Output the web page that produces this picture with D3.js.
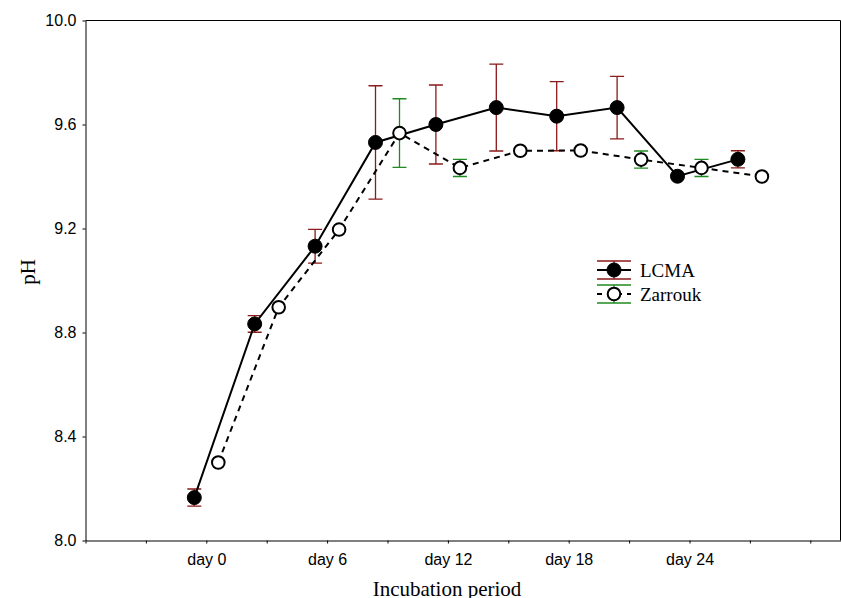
<!doctype html>
<html>
<head>
<meta charset="utf-8">
<style>
body{
  margin:0;
  background-color:#ffffff;
}
.tick text{
  font-family:"Liberation Sans", Arial, sans-serif;
  font-size:16px;
  fill:#000;
}
.lab{
  font-family:"Liberation Serif", "Times New Roman", serif;
  font-size:21px;
  fill:#000;
}
.leg{
  font-family:"Liberation Serif", "Times New Roman", serif;
  font-size:19px;
  fill:#000;
}
</style>
<script src="https://d3js.org/d3.v7.min.js"></script>
</head>
<body>
<svg width="841" height="598"></svg>
<script>
// data
var days = [0, 3, 6, 9, 12, 15, 18, 21, 24, 27];
var lcma = [8.165, 8.833, 9.132, 9.531, 9.600, 9.665, 9.632, 9.665, 9.401, 9.466];
var lcmaErr = [0.033, 0.032, 0.065, 0.218, 0.152, 0.167, 0.133, 0.120, 0, 0.033];
var zarrouk = [8.300, 8.897, 9.196, 9.567, 9.433, 9.499, 9.500, 9.465, 9.433, 9.400];
var zarroukErr = [0, 0, 0, 0.132, 0.033, 0, 0, 0.033, 0.033, 0];
var yTicks = [8.0, 8.4, 8.8, 9.2, 9.6, 10.0];
var xTicks = [-6, -3, 0, 3, 6, 9, 12, 15, 18, 21, 24, 27, 30];
var xLabelDays = [0, 6, 12, 18, 24];
var seriesNames = ["LCMA", "Zarrouk"];

var mLeft = 85.5, mRight = 840.5, mTop = 20.5, mBottom = 540.5;

var svg = d3.select("svg");

var x = d3.scaleLinear().domain([-6, 31.5]).range([mLeft, mRight]);
var y = d3.scaleLinear().domain([8, 10]).range([mBottom, mTop]);

// axes
svg.append("g")
  .attr("transform", "translate(" + mLeft + ",0)")
  .call(d3.axisLeft(y).tickValues(yTicks).tickFormat(d3.format(".1f"))
    .tickSize(3).tickSizeOuter(0).tickPadding(6))
  .call(function(g){ g.selectAll("line,path").attr("stroke", "#000"); });

svg.append("g")
  .attr("transform", "translate(0," + mBottom + ")")
  .call(d3.axisBottom(x).tickValues(xTicks)
    .tickFormat(function(d){ return xLabelDays.indexOf(d) >= 0 ? "day " + d : ""; })
    .tickSize(3).tickSizeOuter(0).tickPadding(10))
  .call(function(g){ g.selectAll("line,path").attr("stroke", "#000"); });

// frame top + right
svg.append("path")
  .attr("d", "M" + mLeft + "," + mTop + "H" + mRight + "V" + mBottom)
  .attr("fill", "none")
  .attr("stroke", "#000")
  .attr("stroke-width", 1);

// axis titles
svg.append("text").attr("class", "lab")
  .attr("x", 447).attr("y", 596)
  .attr("text-anchor", "middle")
  .text("Incubation period");

svg.append("text").attr("class", "lab")
  .attr("transform", "translate(35,272) rotate(-90)")
  .attr("text-anchor", "middle")
  .text("pH");

var off = 12; // side-by-side shift of the two series (px)
var cap = 7;

var series = [
  {vals: lcma, err: lcmaErr, dx: -off, errColor: "#8b1a1a", filled: true, dash: null},
  {vals: zarrouk, err: zarroukErr, dx: off, errColor: "#1f8a1f", filled: false, dash: "6,5"}
];

series.forEach(function(s){
  var g = svg.append("g");
  // error bars
  days.forEach(function(d, i){
    if (!s.err[i]) return;
    var cx = x(d) + s.dx, y1 = y(s.vals[i] + s.err[i]), y2 = y(s.vals[i] - s.err[i]);
    g.append("path")
      .attr("d", "M" + cx + "," + y1 + "V" + y2 +
                 "M" + (cx - cap) + "," + y1 + "H" + (cx + cap) +
                 "M" + (cx - cap) + "," + y2 + "H" + (cx + cap))
      .attr("fill", "none")
      .attr("stroke", s.errColor)
      .attr("stroke-width", 1.3);
  });
});

series.forEach(function(s){
  var line = d3.line()
    .x(function(d, i){ return x(days[i]) + s.dx; })
    .y(function(d){ return y(d); });
  svg.append("path")
    .datum(s.vals)
    .attr("d", line)
    .attr("fill", "none")
    .attr("stroke", "#000")
    .attr("stroke-width", 2)
    .attr("stroke-dasharray", s.dash);
});

series.forEach(function(s){
  svg.append("g").selectAll("circle")
    .data(s.vals)
    .enter()
    .append("circle")
    .attr("cx", function(d, i){ return x(days[i]) + s.dx; })
    .attr("cy", function(d){ return y(d); })
    .attr("r", s.filled ? 7 : 6.3)
    .attr("fill", s.filled ? "#000" : "#fff")
    .attr("stroke", "#000")
    .attr("stroke-width", s.filled ? 1 : 2);
});

// legend
var lx = 597, lw = 34, rowY = [270, 294];
series.forEach(function(s, i){
  var g = svg.append("g").attr("transform", "translate(0," + rowY[i] + ")");
  var mx = lx + lw / 2;
  g.append("path")
    .attr("d", "M" + lx + ",-9H" + (lx + lw) + "M" + lx + ",9H" + (lx + lw) + "M" + mx + ",-9V9")
    .attr("stroke", s.errColor).attr("stroke-width", 1.3).attr("fill", "none");
  g.append("path")
    .attr("d", "M" + lx + ",0H" + (lx + lw))
    .attr("stroke", "#000").attr("stroke-width", 2)
    .attr("stroke-dasharray", s.dash ? "5,5" : null);
  g.append("circle")
    .attr("cx", mx).attr("cy", 0)
    .attr("r", s.filled ? 7 : 6.3)
    .attr("fill", s.filled ? "#000" : "#fff")
    .attr("stroke", "#000")
    .attr("stroke-width", s.filled ? 1 : 2);
  g.append("text").attr("class", "leg")
    .attr("x", 640).attr("y", 6.5)
    .text(seriesNames[i]);
});
</script>
</body>
</html>
